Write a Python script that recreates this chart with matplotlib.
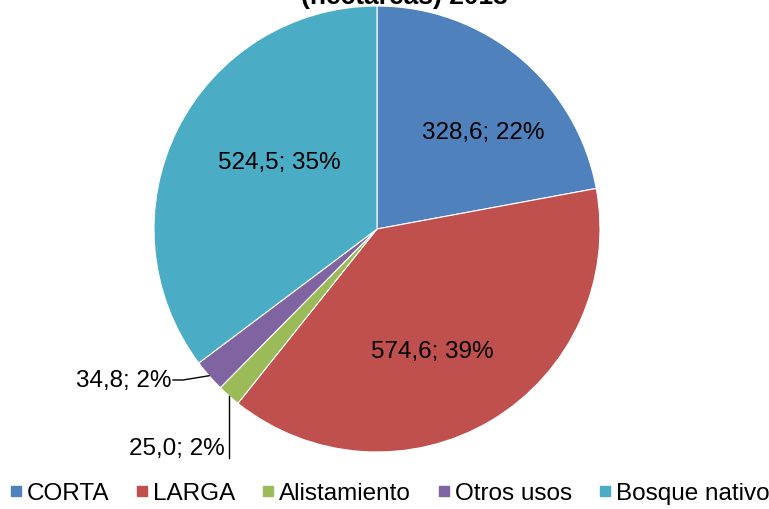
import matplotlib
matplotlib.use("Agg")
import matplotlib.pyplot as plt
from matplotlib.lines import Line2D
import numpy as np

plt.rcParams['font.family'] = ['Liberation Sans', 'DejaVu Sans']

categories = ["CORTA", "LARGA", "Alistamiento", "Otros usos", "Bosque nativo"]
values = [328.6, 574.6, 25.0, 34.8, 524.5]
percents = [22, 39, 2, 2, 35]
colors = ["#4F81BD", "#C0504D", "#9BBB59", "#8064A2", "#4BACC6"]
title = "(hectáreas) 2013"

W, H = 769, 510
fig = plt.figure(figsize=(W / 100, H / 100), dpi=100)
cx, cy, R = 377, 230, 223
ax = fig.add_axes([(cx - R) / W, (H - cy - R) / H, 2 * R / W, 2 * R / H])
wedges, _ = ax.pie(values, colors=colors, startangle=90, counterclock=False,
                   radius=1.0, wedgeprops=dict(edgecolor="white", linewidth=0.8))
ax.set_xlim(-1, 1)
ax.set_ylim(-1, 1)
ax.set_aspect("equal")
ax.axis("off")

labels = [f"{v:.1f}".replace(".", ",") + f"; {p}%" for v, p in zip(values, percents)]

# inside label placement (angle offset deg, radius) per slice
inside = {0: (-7.7, 0.645), 1: (-6.3, 0.60), 4: (-8.1, 0.53)}
for i, (dang, r) in inside.items():
    w = wedges[i]
    mid = np.deg2rad((w.theta1 + w.theta2) / 2 + dang)
    ax.text(r * np.cos(mid), r * np.sin(mid), labels[i], ha="center", va="center",
            fontsize=17.5)

def px(x):
    return (x - cx) / R

def py(y):
    return -(y - cy) / R

def edge_point(w):
    mid = np.deg2rad((w.theta1 + w.theta2) / 2)
    return np.cos(mid), np.sin(mid)

# Otros usos
ex, ey = edge_point(wedges[3])
ty = py(381)
ax.plot([ex, px(183), px(173)], [ey, ty, ty], color="black", lw=1, clip_on=False)
ax.text(px(171), ty, labels[3], ha="right", va="center", fontsize=17.5)

# Alistamiento
ex, ey = edge_point(wedges[2])
ax.plot([ex, ex], [ey, py(459)], color="black", lw=1, clip_on=False)
ax.text(px(225), py(449), labels[2], ha="right", va="center",
        fontsize=17.5, clip_on=False)

fig.text(404 / W, 1 - 4 / H, title, ha="center", va="baseline", fontsize=19,
         fontweight="bold")

handles = [Line2D([], [], marker="s", linestyle="none", markersize=7.5,
                  markerfacecolor=c, markeredgecolor=c) for c in colors]
fig.legend(handles, categories, loc="center", bbox_to_anchor=(389 / W, 1 - 494 / H),
           ncol=5, frameon=False, fontsize=17.5, handlelength=0.6, handletextpad=0.15,
           columnspacing=1.05, borderaxespad=0, borderpad=0)

fig.savefig("out.png", dpi=100)
